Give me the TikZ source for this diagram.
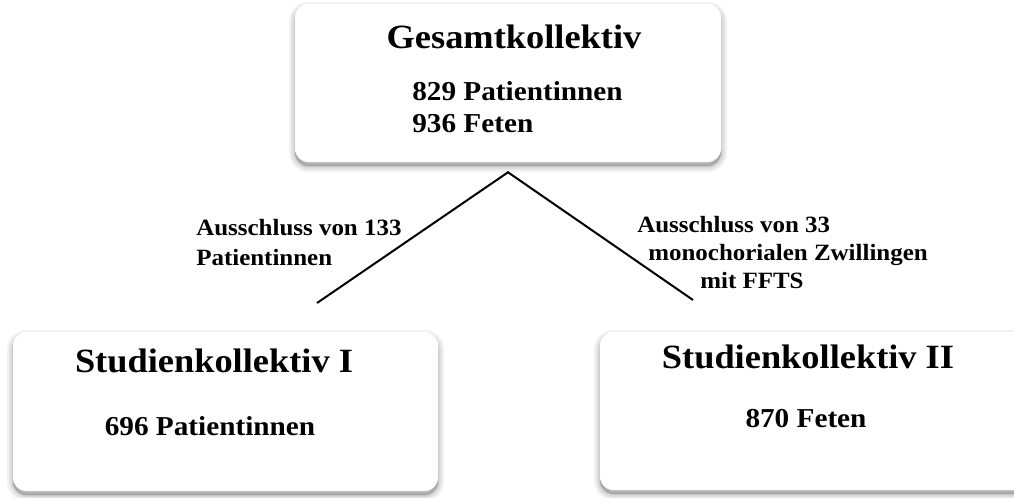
\documentclass[tikz,border=0pt]{standalone}
\usepackage{fontspec}
\setmainfont{Liberation Serif}[FakeStretch=1.07]
\begin{document}
\begin{tikzpicture}[x=0.75pt,y=-0.75pt]
\tikzset{
  sh/.style={preaction={draw=black, fill=black, opacity=0.05, line width=#1, transform canvas={yshift=-3pt}}},
  box/.style={rounded corners=10pt, fill=white, draw=none, inner sep=0pt,
    sh=9pt, sh=6pt, sh=3.5pt, sh=1.5pt},
  title/.style={font=\bfseries\fontsize{25.5}{30}\selectfont, anchor=base, inner sep=0pt},
  body/.style={font=\bfseries\fontsize{20.5}{24}\selectfont, inner sep=0pt},
  lab/.style={font=\bfseries\fontsize{17.5}{21}\selectfont, anchor=base west, inner sep=0pt},
  conn/.style={line width=1.5pt, black}
}
\clip (0,0) rectangle (1014,497);
\useasboundingbox (0,0) rectangle (1014,497);
\fill[white] (0,0) rectangle (1014,497);
% boxes
\node[box, minimum width=319.5pt, minimum height=118.5pt] (top) at (508,83) {};
\node[box, minimum width=318.75pt, minimum height=119.25pt] (left) at (225.5,411.5) {};
\node[box, minimum width=330pt, minimum height=118.5pt] (right) at (820,411) {};
% texts
\node[title] (t1) at (514,48) {Gesamtkollektiv};
\node[body, anchor=base west] (t1a) at (412,100) {829 Patientinnen};
\node[body, anchor=base west] (t1b) at (412,132) {936 Feten};
\node[title] (t2) at (214,372) {Studienkollektiv I};
\node[body, anchor=base] (t2a) at (210,435) {696 Patientinnen};
\node[title] (t3) at (808,368) {Studienkollektiv II};
\node[body, anchor=base] (t3a) at (806,427) {870 Feten};
% connectors
\coordinate (apex) at ([yshift=-7.5pt]top.south);
\coordinate (endL) at (317,303);
\coordinate (endR) at (693,300);
\draw[conn] (endL) -- (apex) -- (endR);
% labels
\node[lab] (l1) at (196,235) {Ausschluss von 133};
\node[lab] (l2) at (196,265) {Patientinnen};
\node[lab] (r1) at (637,232) {Ausschluss von 33};
\node[lab] (r2) at (648,260) {monochorialen Zwillingen};
\node[lab] (r3) at (700,288) {mit FFTS};
\end{tikzpicture}
\end{document}
